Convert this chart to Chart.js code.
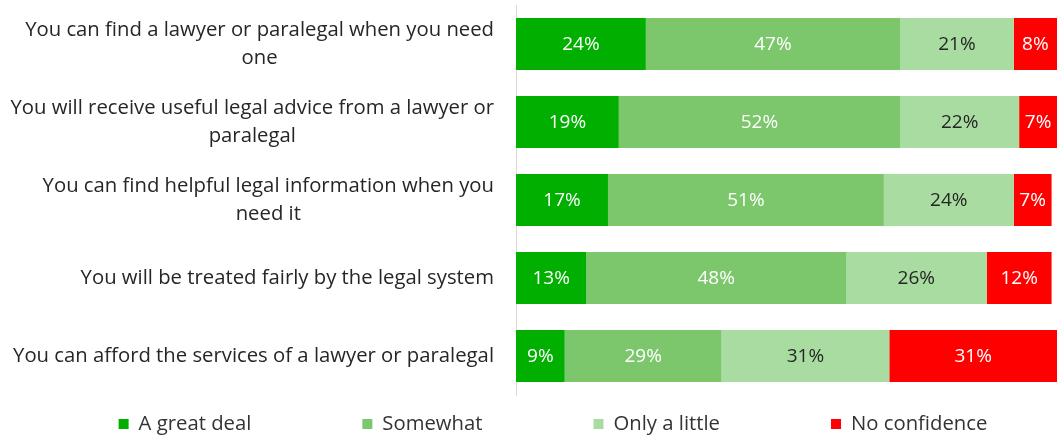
<!DOCTYPE html>
<html>
<head>
<meta charset="utf-8">
<script src="https://cdn.jsdelivr.net/npm/chart.js@4"></script>
<style>
  html, body { margin: 0; padding: 0; background: #fff; overflow: hidden; }
  #wrap { width: 1057px; height: 436px; position: relative; }
</style>
</head>
<body>
<div id="wrap"><canvas id="chart"></canvas></div>
<script>
// question wording, one entry per bar (lines already wrapped)
const categories = [
  ["You can find a lawyer or paralegal when you need", "one"],
  ["You will receive useful legal advice from a lawyer or", "paralegal"],
  ["You can find helpful legal information when you", "need it"],
  ["You will be treated fairly by the legal system"],
  ["You can afford the services of a lawyer or paralegal"]
];
const seriesNames = ["A great deal", "Somewhat", "Only a little", "No confidence"];
const greatDeal = [24, 19, 17, 13, 9];
const somewhat = [47, 52, 51, 48, 29];
const onlyLittle = [21, 22, 24, 26, 31];
const noConfidence = [8, 7, 7, 12, 31];

const colors = ["#00af00", "#7cc76c", "#a9dca0", "#ff0000"];
const labelColors = ["#ffffff", "#ffffff", "#262626", "#ffffff"];
const FONT = "'Open Sans'";
const FS = 20.3;      // category + legend text
const VAL_FS = 19;    // numbers inside the bars

// percentage text in the middle of each segment
const valueLabels = {
  id: "valueLabels",
  afterDatasetsDraw(chart) {
    const ctx = chart.ctx;
    ctx.save();
    ctx.font = VAL_FS + "px " + FONT;
    ctx.textAlign = "center";
    ctx.textBaseline = "middle";
    chart.data.datasets.forEach((ds, di) => {
      chart.getDatasetMeta(di).data.forEach((el, i) => {
        ctx.fillStyle = labelColors[di];
        ctx.fillText(ds.data[i] + "%", (el.x + el.base) / 2, el.y + 1);
      });
    });
    ctx.restore();
  }
};

// category text: lines centred on each other, block right-aligned to the axis
const categoryLabels = {
  id: "categoryLabels",
  afterDraw(chart) {
    const ctx = chart.ctx;
    const y = chart.scales.y;
    const right = chart.chartArea.left - 22;
    const lh = 28;
    ctx.save();
    ctx.font = FS + "px " + FONT;
    ctx.fillStyle = "#262626";
    ctx.textAlign = "center";
    ctx.textBaseline = "middle";
    categories.forEach((lines, i) => {
      const w = Math.max(...lines.map(l => ctx.measureText(l).width));
      const cx = right - w / 2;
      const cy = y.getPixelForValue(i);
      lines.forEach((l, k) => {
        ctx.fillText(l, cx, cy + (k - (lines.length - 1) / 2) * lh);
      });
    });
    ctx.restore();
  }
};

// bottom legend with equal gaps between items
const bottomLegend = {
  id: "bottomLegend",
  afterDraw(chart) {
    const ctx = chart.ctx;
    const gap = 111, box = 10, txtGap = 10;
    ctx.save();
    ctx.font = FS + "px " + FONT;
    ctx.textBaseline = "middle";
    const widths = seriesNames.map(n => box + txtGap + ctx.measureText(n).width);
    const total = widths.reduce((a, b) => a + b, 0) + gap * (widths.length - 1);
    let x = 553 - total / 2;
    const cy = 424;
    seriesNames.forEach((n, i) => {
      ctx.fillStyle = colors[i];
      ctx.fillRect(x, cy - box / 2, box, box);
      ctx.fillStyle = "#333333";
      ctx.fillText(n, x + box + txtGap, cy);
      x += widths[i] + gap;
    });
    ctx.restore();
  }
};

const values = [greatDeal, somewhat, onlyLittle, noConfidence];

new Chart(document.getElementById("chart"), {
  type: "bar",
  data: {
    labels: categories,
    datasets: values.map((d, i) => ({
      label: seriesNames[i],
      data: d,
      backgroundColor: colors[i],
      borderWidth: 0,
      barPercentage: 0.667,
      categoryPercentage: 1
    }))
  },
  options: {
    indexAxis: "y",
    responsive: true,
    maintainAspectRatio: false,
    animation: false,
    layout: { padding: { top: 5, bottom: 41, left: 0, right: 0 } },
    plugins: { legend: { display: false }, tooltip: { enabled: false } },
    scales: {
      x: { stacked: true, min: 0, max: 100, display: false },
      y: {
        stacked: true,
        grid: { display: false },
        border: { color: "#d9d9d9", width: 1 },
        ticks: { display: false },
        afterFit(scale) { scale.width = 516; }
      }
    }
  },
  plugins: [valueLabels, categoryLabels, bottomLegend]
});
</script>
</body>
</html>
